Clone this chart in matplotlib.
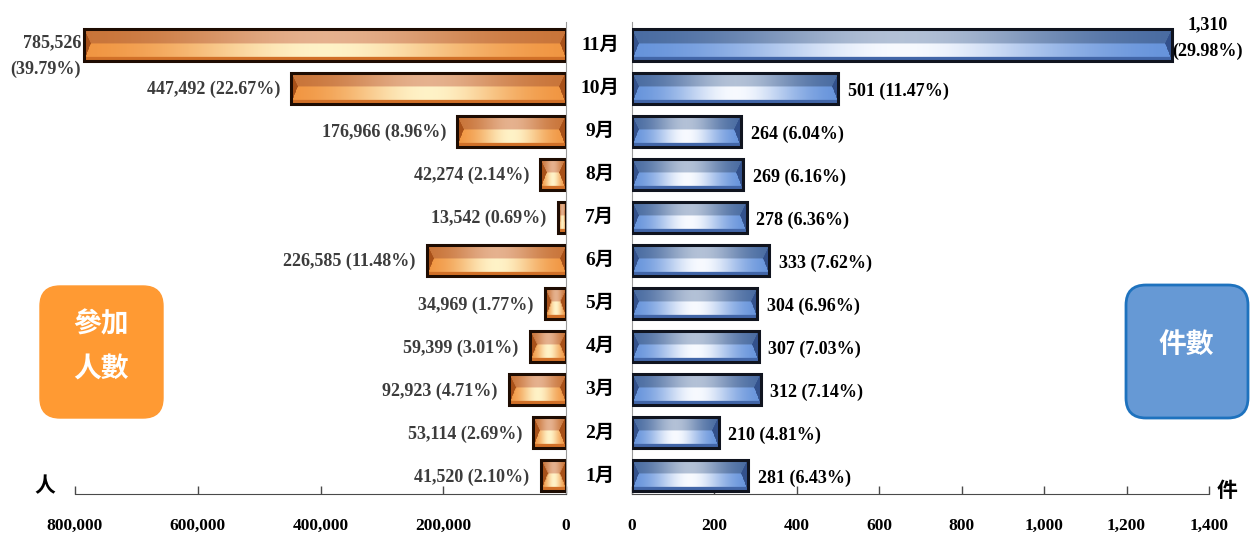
import numpy as np
import matplotlib.pyplot as plt
from matplotlib.patches import FancyBboxPatch

# データ
months = ["1月", "2月", "3月", "4月", "5月", "6月", "7月", "8月", "9月", "10月", "11月"]
people = [41520, 53114, 92923, 59399, 34969, 226585, 13542, 42274, 176966, 447492, 785526]
people_pct = [2.10, 2.69, 4.71, 3.01, 1.77, 11.48, 0.69, 2.14, 8.96, 22.67, 39.79]
cases = [281, 210, 312, 307, 304, 333, 278, 269, 264, 501, 1310]
cases_pct = [6.43, 4.81, 7.14, 7.03, 6.96, 7.62, 6.36, 6.16, 6.04, 11.47, 29.98]

people_ticks = [800000, 600000, 400000, 200000, 0]
cases_ticks = [0, 200, 400, 600, 800, 1000, 1200, 1400]

plt.rcParams["font.family"] = ["Liberation Serif", "Noto Sans CJK TC"]

orange = {
    "side": np.array([0.66, 0.32, 0.10]),
    "top_edge": np.array([0.78, 0.44, 0.20]),
    "top_mid": np.array([0.92, 0.74, 0.62]),
    "low_edge": np.array([0.94, 0.56, 0.22]),
    "low_mid": np.array([1.00, 0.95, 0.78]),
    "bottom": np.array([0.82, 0.44, 0.16]),
}
blue = {
    "side": np.array([0.20, 0.32, 0.55]),
    "top_edge": np.array([0.26, 0.40, 0.62]),
    "top_mid": np.array([0.78, 0.82, 0.88]),
    "low_edge": np.array([0.36, 0.55, 0.85]),
    "low_mid": np.array([0.97, 0.98, 1.00]),
    "bottom": np.array([0.26, 0.40, 0.66]),
}


def bevel_image(w, h, pal):
    # ガラス風の面取りバー画像を作る
    w = max(int(round(w)), 3)
    h = max(int(round(h)), 3)
    X, Y = np.meshgrid(np.arange(w) + 0.5, np.arange(h) + 0.5)
    split = 0.45 * h
    b = min(0.22 * h, 0.3 * w)
    d = np.where(Y < split, b * Y / split, b * (h - Y) / (h - split))
    glow = np.exp(-((X / w - 0.5) / 0.3) ** 2)[..., None]
    top = pal["top_edge"] + (pal["top_mid"] - pal["top_edge"]) * glow * 0.85
    low = pal["low_edge"] + (pal["low_mid"] - pal["low_edge"]) * glow
    img = np.where((Y < split)[..., None], top, low)
    img = np.where((Y > 0.87 * h)[..., None], pal["bottom"] + 0 * img, img)
    side = (X < d) | (X > w - d)
    img[side] = pal["side"]
    return np.clip(img, 0, 1)


def draw_bars(ax, values, pal, border):
    ypos = np.arange(len(values))
    bars = ax.barh(ypos, values, height=0.72, facecolor="none",
                   edgecolor=border, linewidth=2.2, zorder=3)
    for bar in bars:
        x0, y0 = bar.get_x(), bar.get_y()
        x1, y1 = x0 + bar.get_width(), y0 + bar.get_height()
        p0 = ax.transData.transform((x0, y0))
        p1 = ax.transData.transform((x1, y1))
        img = bevel_image(abs(p1[0] - p0[0]), abs(p1[1] - p0[1]), pal)
        ax.imshow(img, extent=(x0, x1, y0, y1), aspect="auto",
                  interpolation="bilinear", zorder=2)
    return bars


fig = plt.figure(figsize=(12.5, 5.38), dpi=100)
ax_l = fig.add_axes([0.06, 0.0818, 0.3928, 0.877])
ax_r = fig.add_axes([0.5056, 0.0818, 0.4616, 0.877])

ylim = (-0.42, 10.53)
ax_l.set_xlim(800000, 0)
ax_l.set_ylim(*ylim)
ax_r.set_xlim(0, 1400)
ax_r.set_ylim(*ylim)

draw_bars(ax_l, people, orange, "#1e0c02")
draw_bars(ax_r, cases, blue, "#10141f")

ax_l.set_xlim(800000, 0)
ax_l.set_ylim(*ylim)
ax_r.set_xlim(0, 1400)
ax_r.set_ylim(*ylim)

# 軸の設定
for ax in (ax_l, ax_r):
    ax.spines["top"].set_visible(False)
    ax.spines["bottom"].set_color("#4a4a4a")
    ax.set_yticks([])
    ax.tick_params(axis="x", direction="in", length=6, width=1, color="#4a4a4a",
                   pad=17, labelsize=12.5)
ax_l.spines["left"].set_visible(False)
ax_l.spines["right"].set_color("#9a9a9a")
ax_r.spines["right"].set_visible(False)
ax_r.spines["left"].set_color("#9a9a9a")

ax_l.set_xticks(people_ticks)
ax_l.set_xticklabels([f"{v:,}" for v in people_ticks], fontweight="bold", fontsize=12.5)
ax_r.set_xticks(cases_ticks)
ax_r.set_xticklabels([f"{v:,}" for v in cases_ticks], fontweight="bold", fontsize=12.5)

# データラベル
top_i = int(np.argmax(people))
for i, (v, p) in enumerate(zip(people, people_pct)):
    if i == top_i:
        ax_l.annotate(f"{v:,}\n({p:.2f}%)", xy=(v, i), xytext=(-2, -8),
                      textcoords="offset points", ha="right", va="center",
                      multialignment="right", fontsize=13, fontweight="bold",
                      color="#3c3c3c", linespacing=1.75)
    else:
        ax_l.annotate(f"{v:,} ({p:.2f}%)", xy=(v, i), xytext=(-8, -1),
                      textcoords="offset points", ha="right", va="center",
                      fontsize=13, fontweight="bold", color="#3c3c3c")

top_j = int(np.argmax(cases))
for i, (v, p) in enumerate(zip(cases, cases_pct)):
    if i == top_j:
        ax_r.annotate(f"{v:,}\n({p:.2f}%)", xy=(v, i), xytext=(0, 5),
                      textcoords="offset points", ha="left", va="center",
                      multialignment="center", fontsize=13, fontweight="bold",
                      color="black", linespacing=1.75)
    else:
        ax_r.annotate(f"{v:,} ({p:.2f}%)", xy=(v, i), xytext=(7, -2),
                      textcoords="offset points", ha="left", va="center",
                      fontsize=13, fontweight="bold", color="black")

# 月ラベル
for i, m in enumerate(months):
    ax_l.text(1.069, i, m, transform=ax_l.get_yaxis_transform(), ha="center",
              va="center", fontsize=14, fontweight="bold", color="black")

# 単位
fig.text(0.036, 0.098, "人", ha="center", va="center", fontsize=15,
         fontweight="bold", family=["Noto Sans CJK TC"])
fig.text(0.982, 0.089, "件", ha="center", va="center", fontsize=15,
         fontweight="bold", family=["Noto Sans CJK TC"])

# 凡例ボックス
box_l = FancyBboxPatch((0.40, 1.20), 1.23, 1.32, boxstyle="round,pad=0,rounding_size=0.2",
                       transform=fig.dpi_scale_trans, facecolor="#ff9a33",
                       edgecolor="#ff9a33", linewidth=1)
box_r = FancyBboxPatch((11.26, 1.20), 1.22, 1.33, boxstyle="round,pad=0,rounding_size=0.2",
                       transform=fig.dpi_scale_trans, facecolor="#6699d5",
                       edgecolor="#1e72be", linewidth=2)
fig.add_artist(box_l)
fig.add_artist(box_r)
fig.text(0.0808, 0.355, "參加\n人數", ha="center", va="center", fontsize=20,
         color="white", linespacing=1.8, fontweight="bold", family=["Noto Sans CJK TC"])
fig.text(0.949, 0.357, "件數", ha="center", va="center", fontsize=20,
         color="white", fontweight="bold", family=["Noto Sans CJK TC"])

plt.savefig("out.png", dpi=100)
